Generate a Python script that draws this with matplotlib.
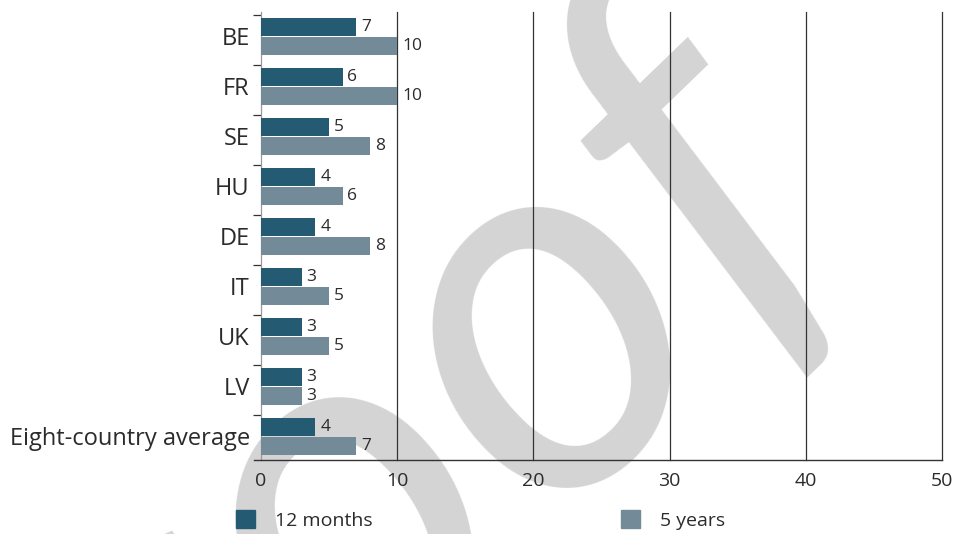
import numpy as np
import matplotlib.pyplot as plt
from matplotlib.patches import Patch

# Datos
countries = ['BE', 'FR', 'SE', 'HU', 'DE', 'IT', 'UK', 'LV', 'Eight-country average']
months12 = [7, 6, 5, 4, 4, 3, 3, 3, 4]
years5 = [10, 10, 8, 6, 8, 5, 5, 3, 7]
xticks = [0, 10, 20, 30, 40, 50]

dark = '#245a72'
light = '#738b98'
txt = '#2b2b2b'

plt.rcParams['font.family'] = ['Open Sans', 'DejaVu Sans']

fig = plt.figure(figsize=(9.58, 5.34), dpi=100)
ax = fig.add_axes([0.2724, 0.1386, 0.7109, 0.839])
ax.set_facecolor('none')

# Marca de agua
fig.text(0.342, 0.031, 'Proof', fontsize=380, color='#d4d4d4', rotation=44,
         family='Lato', style='italic', ha='center', va='center', zorder=-5,
         rotation_mode='anchor')

y = np.arange(len(countries))
h = 0.36
b1 = ax.barh(y - 0.265, months12, height=h, color=dark, zorder=3)
b2 = ax.barh(y + 0.13, years5, height=h, color=light, zorder=3)

for bars, vals in ((b1, months12), (b2, years5)):
    for bar, v in zip(bars, vals):
        ax.text(bar.get_width() + 0.35, bar.get_y() + bar.get_height() / 2, str(v),
                va='center', ha='left', fontsize=12.5, color=txt, zorder=4)

for xv in xticks[1:]:
    ax.axvline(xv, color='#333333', lw=0.9, zorder=1, clip_on=False)

ax.set_xlim(0, 50)
ax.set_ylim(8.4, -0.56)
ax.set_xticks(xticks)
ax.set_xticklabels([str(t) for t in xticks], fontsize=14, color=txt)
ax.tick_params(axis='x', length=0, pad=9)

ax.set_yticks(y - 0.07)
ax.set_yticklabels(countries, fontsize=17, color=txt)
ax.set_yticks(np.arange(-0.5, len(countries) - 0.5, 1.0), minor=True)
ax.tick_params(axis='y', which='major', length=0, pad=8)
ax.tick_params(axis='y', which='minor', length=6, width=0.9, color='#333333')

for s in ('top', 'right'):
    ax.spines[s].set_visible(False)
ax.spines['left'].set_color('#999999')
ax.spines['left'].set_linewidth(0.9)
ax.spines['bottom'].set_color('#333333')
ax.spines['bottom'].set_linewidth(1.0)
ax.spines['bottom'].set_bounds(-0.5, 50)

# Leyenda
for label, col, xpos in (('12 months', dark, 236 / 958), ('5 years', light, 621 / 958)):
    fig.legend(handles=[Patch(color=col, label=label)], loc='center left',
               bbox_to_anchor=(xpos, 1 - 520 / 534), frameon=False, fontsize=14,
               handlelength=1.0, handleheight=1.0, handletextpad=1.0,
               borderpad=0, borderaxespad=0, labelcolor=txt)

fig.savefig('out.png', dpi=100)
